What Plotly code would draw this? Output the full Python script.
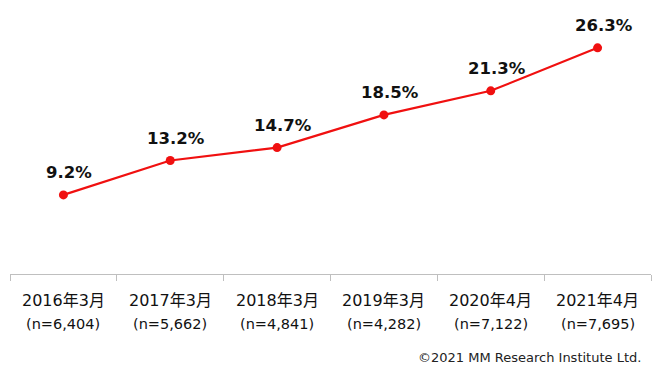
import plotly.graph_objects as go

categories = ["2016年3月", "2017年3月", "2018年3月", "2019年3月", "2020年4月", "2021年4月"]
samples = ["(n=6,404)", "(n=5,662)", "(n=4,841)", "(n=4,282)", "(n=7,122)", "(n=7,695)"]
values = [9.2, 13.2, 14.7, 18.5, 21.3, 26.3]
labels = ["9.2%", "13.2%", "14.7%", "18.5%", "21.3%", "26.3%"]

FONT = "DejaVu Sans, Noto Sans CJK JP, sans-serif"
RED = "#f01010"

fig = go.Figure()
fig.add_trace(go.Scatter(
    x=categories, y=values, mode="lines+markers",
    line=dict(color=RED, width=2.2),
    marker=dict(color=RED, size=9),
    hoverinfo="skip", showlegend=False,
))

for c, v, t in zip(categories, values, labels):
    fig.add_annotation(x=c, y=v, text=f"<b>{t}</b>", showarrow=False,
                       xref="x", yref="y", yshift=22, xshift=6,
                       font=dict(family=FONT, size=16.5, color="#111111"))

for c, s in zip(categories, samples):
    fig.add_annotation(x=c, y=0, text=c, showarrow=False, xref="x", yref="y",
                       yshift=-26, font=dict(family=FONT, size=16, color="#111111"))
    fig.add_annotation(x=c, y=0, text=s, showarrow=False, xref="x", yref="y",
                       yshift=-50, font=dict(family=FONT, size=14.5, color="#111111"))

fig.add_annotation(x=1, y=0, xref="paper", yref="paper", xanchor="right", yanchor="middle",
                   text="©2021 MM Research Institute Ltd.", showarrow=False,
                   xshift=-8, yshift=-83,
                   font=dict(family=FONT, size=13, color="#222222"))

fig.update_xaxes(type="category", showgrid=False, showticklabels=False,
                 showline=True, linecolor="#bfbfbf", linewidth=1.3,
                 ticks="outside", tickson="boundaries", ticklen=6,
                 tickcolor="#bfbfbf", tickwidth=1.3, zeroline=False,
                 range=[-0.5, 5.5])
fig.update_yaxes(range=[0, 30], visible=False, showgrid=False, zeroline=False)

fig.update_layout(
    width=657, height=364,
    margin=dict(l=2, r=14, t=8, b=98),
    paper_bgcolor="white", plot_bgcolor="white",
    font=dict(family=FONT),
)

fig.write_html("out.html")
